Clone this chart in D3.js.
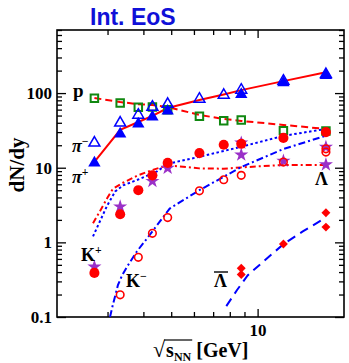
<!DOCTYPE html>
<html>
<head>
<meta charset="utf-8">
<script src="https://cdn.jsdelivr.net/npm/d3@7"></script>
<style>
  body { margin: 0; background: #fff; }
  svg { display: block; }
  .tick text { font-family: "Liberation Serif", serif; font-weight: bold; font-size: 17px; fill: #000; }
  .lbl { font-family: "Liberation Serif", serif; font-weight: bold; fill: #000; }
</style>
</head>
<body>
<div id="chart"></div>
<script>
// beam energies (sqrt(s_NN), GeV)
const energies = [2.70, 3.32, 3.84, 4.30, 4.86, 6.27, 7.62, 8.77, 12.3, 17.3];

// data points
const protonY = [85, 73.6, 64.4, 65, 60, 49, 42.7, 43.7, 31.4, 31];
const piMinusY = [21.5, 39.8, 50.9, 65, 71, 83.2, 94, 110, 145, 178];
const piPlusE = [2.70, 3.32, 3.84, 4.30, 4.86, 8.77, 12.3, 17.3];
const piPlusY = [11.6, 28.4, 38.6, 47.9, 57.5, 96, 138, 172];
const kPlusY = [0.39, 2.38, 5.0, 7.9, 11.6, 15.7, 20.3, 20.9, 25.1, 30];
const kMinusE = [3.32, 3.84, 4.30, 4.86, 6.27, 7.62, 8.77, 12.3, 17.3, 17.3];
const kMinusY = [0.198, 0.63, 1.32, 2.15, 4.9, 6.9, 7.9, 11.9, 17.9, 16.2];
const lambdaE = [2.70, 3.32, 4.30, 4.86, 8.77, 8.77, 12.3, 17.3, 17.3];
const lambdaY = [0.47, 3.0, 6.6, 9.9, 21.5, 14.9, 12.3, 18.9, 11.0];
const aLambdaE = [8.77, 8.77, 12.3, 17.3, 17.3];
const aLambdaY = [0.45, 0.37, 0.95, 2.5, 1.6];

// model curves
const pModelY = [85.8, 75.8, 71, 69, 65, 51, 45, 42.4, 37.4, 33.1];
const piModelY = [12.0, 32.1, 41, 49.4, 63.1, 80.7, 96, 109.6, 144.5, 190.6];
const kPlusModelE = [2.67, 2.78, 2.99, 3.19, 3.40, 3.89, 4.46, 4.86, 6.27, 8.77, 12.3, 17.3];
const kPlusModelY = [1.2, 1.69, 3.1, 4.8, 5.8, 7.1, 8.9, 11.3, 14.0, 19.1, 26.7, 33.1];
const lambdaModelE = [2.67, 2.82, 2.99, 3.13, 3.37, 3.80, 4.29, 4.86, 5.5, 6.27, 7.62, 8.77, 12.3, 17.3];
const lambdaModelY = [1.8, 2.6, 3.9, 5.2, 6.2, 7.8, 9.3, 10.8, 10.3, 9.8, 9.7, 10.1, 10.9, 10.9];
const kMinusModelE = [3.06, 3.13, 3.26, 3.37, 3.53, 3.80, 4.12, 4.46, 4.94, 6.27, 8.77, 12.3, 17.3];
const kMinusModelY = [0.1, 0.145, 0.267, 0.36, 0.49, 0.76, 1.13, 1.69, 2.84, 5.0, 10.2, 17.8, 26.9];
const aLambdaModelE = [7.78, 8.48, 9.23, 10.77, 12.41, 14.37, 17.3];
const aLambdaModelY = [0.14, 0.23, 0.36, 0.61, 0.97, 1.40, 2.15];

// ticks
const xMajor = [10];
const xMinor = [3, 4, 5, 6, 7, 8, 9];
const yMajor = [0.1, 1, 10, 100];
const yMinor = [];
[0.1, 1, 10, 100].forEach(d => { for (let k = 2; k <= 9; k++) if (d * k <= 700) yMinor.push(d * k); });

const width = 349, height = 363;
const mLeft = 57, mRight = 344, mTop = 30, mBottom = 317;

const svg = d3.select('#chart').append('svg')
  .attr('width', width).attr('height', height);

const x = d3.scaleLog().domain([2, 20]).range([mLeft, mRight]);
const y = d3.scaleLog().domain([0.1, 700]).range([mBottom, mTop]);

// axes, ticks pointing inward on all four sides
function axis(gen, vals, size, labels, tx, ty) {
  const g = svg.append('g').attr('transform', `translate(${tx},${ty})`)
    .call(gen.tickValues(vals).tickSize(size).tickPadding(labels ? 5 : 0)
      .tickFormat(labels ? (d => d3.format('~g')(d)) : ''));
  g.select('.domain').remove();
  g.selectAll('.tick line').attr('stroke', '#000').attr('stroke-width', 1.3);
  return g;
}
axis(d3.axisLeft(y), yMajor, -9, true, mLeft, 0);
axis(d3.axisLeft(y), yMinor, -5, false, mLeft, 0);
axis(d3.axisRight(y), yMajor, -9, false, mRight, 0);
axis(d3.axisRight(y), yMinor, -5, false, mRight, 0);
const xb = axis(d3.axisBottom(x), xMajor, -8, true, 0, mBottom);
xb.selectAll('text').attr('y', 7);
axis(d3.axisBottom(x), xMinor, -5, false, 0, mBottom);
axis(d3.axisTop(x), xMajor, -8, false, 0, mTop);
axis(d3.axisTop(x), xMinor, -5, false, 0, mTop);

svg.append('rect')
  .attr('x', mLeft).attr('y', mTop).attr('width', mRight - mLeft).attr('height', mBottom - mTop)
  .attr('fill', 'none').attr('stroke', '#000').attr('stroke-width', 1.6);

svg.append('clipPath').attr('id', 'plot')
  .append('rect').attr('x', mLeft).attr('y', mTop).attr('width', mRight - mLeft).attr('height', mBottom - mTop);

const plot = svg.append('g').attr('clip-path', 'url(#plot)');

// model lines
const line = d3.line().x(d => x(d[0])).y(d => y(d[1]));
function curve(es, ys, color, dash) {
  plot.append('path')
    .datum(es.map((e, i) => [e, ys[i]]))
    .attr('d', line)
    .attr('fill', 'none')
    .attr('stroke', color)
    .attr('stroke-width', 2)
    .attr('stroke-dasharray', dash);
}
curve(energies, pModelY, '#ff0000', '7,4');
curve(energies, piModelY, '#ff0000', null);
curve(lambdaModelE, lambdaModelY, '#ff0000', '6,3,2,3');
curve(kPlusModelE, kPlusModelY, '#0000ff', '2.5,2.5');
curve(kMinusModelE, kMinusModelY, '#0000ff', '7,3,2,3');
curve(aLambdaModelE, aLambdaModelY, '#0000ff', '9,6');

// markers
function points(es, ys, type, size, fill, stroke, sw, rot) {
  plot.append('g').selectAll('path')
    .data(es.map((e, i) => [e, ys[i]]))
    .join('path')
    .attr('transform', d => `translate(${x(d[0])},${y(d[1])}) rotate(${rot || 0})`)
    .attr('d', d3.symbol().type(type).size(size))
    .attr('fill', fill)
    .attr('stroke', stroke)
    .attr('stroke-width', sw);
}
points(energies, protonY, d3.symbolSquare, 56, 'none', '#118811', 2);
points(energies, piMinusY, d3.symbolTriangle, 52, 'none', '#0000ff', 1.5);
points(piPlusE, piPlusY, d3.symbolTriangle, 66, '#0000ff', 'none', 0);
points(lambdaE, lambdaY, d3.symbolStar, 62, '#9a30c8', 'none', 0);
points(energies, kPlusY, d3.symbolCircle, 80, '#ff0000', 'none', 0);
points(kMinusE, kMinusY, d3.symbolCircle, 45, 'none', '#ff0000', 1.6);
points(aLambdaE, aLambdaY, d3.symbolSquare, 40, '#ff0000', 'none', 0, 45);

// particle labels
function label(xp, yp, main, sup, size, italic) {
  const t = svg.append('text').attr('class', 'lbl')
    .attr('x', xp).attr('y', yp).attr('font-size', size);
  const m = t.append('tspan').text(main);
  if (italic) m.attr('font-style', 'italic');
  if (sup) t.append('tspan').text(sup).attr('font-size', size * 0.65).attr('dy', -size * 0.4);
  return t;
}
label(73, 97, 'p', null, 19);
label(72, 152, 'π', '\u2212', 18, true);
label(72, 183, 'π', '+', 18, true);
label(81, 261, 'K', '+', 18);
label(126, 287, 'K', '\u2212', 18);
label(315, 185, 'Λ', null, 18);
label(214, 287, 'Λ', null, 18);
svg.append('line').attr('x1', 214).attr('x2', 228).attr('y1', 272).attr('y2', 272)
  .attr('stroke', '#000').attr('stroke-width', 1.4);

// title
svg.append('text')
  .attr('x', 90).attr('y', 25)
  .attr('font-family', '"Liberation Sans", Arial, sans-serif')
  .attr('font-weight', 'bold').attr('font-size', 23)
  .attr('fill', '#1010d8')
  .text('Int. EoS');

// y axis title
svg.append('text').attr('class', 'lbl')
  .attr('transform', 'translate(24,165) rotate(-90)')
  .attr('text-anchor', 'middle').attr('font-size', 21)
  .text('dN/dy');

// x axis title
const xt = svg.append('text').attr('class', 'lbl')
  .attr('x', 153).attr('y', 357).attr('font-size', 20);
xt.append('tspan').text('\u221A').attr('font-weight', 'normal').attr('font-size', 22);
xt.append('tspan').text('s').attr('dx', 1);
xt.append('tspan').text('NN').attr('font-size', 12).attr('dy', 4);
xt.append('tspan').text(' [GeV]').attr('dy', -4);
const node = xt.node();
const x0 = node.getStartPositionOfChar(1).x;
const x1 = node.getEndPositionOfChar(3).x;
svg.append('line').attr('x1', x0 - 2).attr('x2', x1 + 1).attr('y1', 340).attr('y2', 340)
  .attr('stroke', '#000').attr('stroke-width', 1.2);
</script>
</body>
</html>
